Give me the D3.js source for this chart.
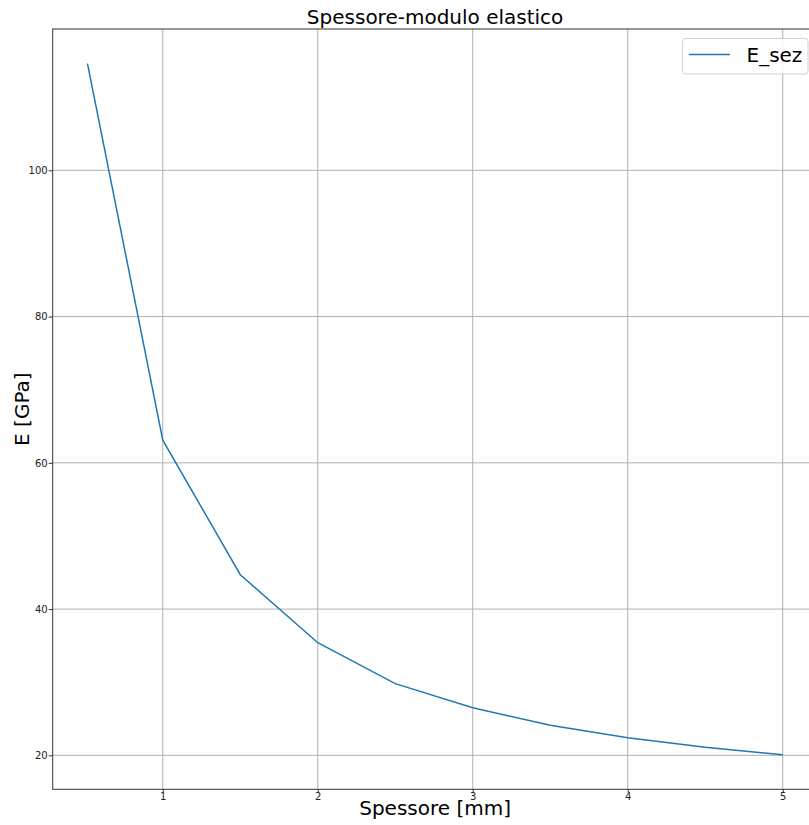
<!DOCTYPE html>
<html>
<head>
<meta charset="utf-8">
<script src="https://cdn.jsdelivr.net/npm/d3@7"></script>
<style>
  html, body { margin: 0; padding: 0; background: #fff; }
  svg { display: block; font-family: "DejaVu Sans", sans-serif; }
</style>
</head>
<body>
<svg id="chart" width="809" height="825"></svg>
<script>
const thickness = [0.514, 1, 1.5, 2, 2.5, 3, 3.5, 4, 4.5, 5];
const modulus = [114.6, 63.1, 44.7, 35.4, 29.8, 26.5, 24.1, 22.4, 21.1, 20.08];
const xTicks = [1, 2, 3, 4, 5];
const yTicks = [20, 40, 60, 80, 100];
const seriesName = "E_sez";
const titleText = "Spessore-modulo elastico";
const xLabel = "Spessore [mm]";
const yLabel = "E [GPa]";

(function () {
const svg = d3.select("#chart");
const pL = 52.7, pR = 817.5, pT = 29, pB = 789.3;

function padded(arr) {
  const [a, b] = d3.extent(arr);
  const p = (b - a) * 0.05;
  return [a - p, b + p];
}

const x = d3.scaleLinear().domain(padded(thickness)).range([pL, pR]);
const y = d3.scaleLinear().domain(padded(modulus)).range([pB, pT]);

svg.append("defs").append("clipPath").attr("id", "clip")
  .append("rect").attr("x", pL).attr("y", pT)
  .attr("width", pR - pL).attr("height", pB - pT);

// grid
const grid = svg.append("g");
grid.selectAll("line.vx").data(xTicks).join("line").attr("class", "vx")
  .attr("x1", d => x(d)).attr("x2", d => x(d))
  .attr("y1", pT).attr("y2", pB)
  .attr("stroke", "#b0b0b0").attr("stroke-width", 1);
grid.selectAll("line.hy").data(yTicks).join("line").attr("class", "hy")
  .attr("x1", pL).attr("x2", pR)
  .attr("y1", d => y(d)).attr("y2", d => y(d))
  .attr("stroke", "#b0b0b0").attr("stroke-width", 1);

// axes
const xAxis = d3.axisBottom(x).tickValues(xTicks).tickSize(3).tickPadding(1).tickFormat(d3.format("d"));
const yAxis = d3.axisLeft(y).tickValues(yTicks).tickSize(4).tickPadding(1).tickFormat(d3.format("d"));

const gx = svg.append("g").attr("transform", `translate(0,${pB})`).call(xAxis);
const gy = svg.append("g").attr("transform", `translate(${pL},0)`).call(yAxis);
[gx, gy].forEach(g => {
  g.select(".domain").remove();
  g.selectAll(".tick line").attr("stroke", "#333");
  g.selectAll(".tick text").attr("fill", "#222").style("font-size", "10px")
    .style("font-family", "DejaVu Sans, sans-serif");
});

// spines
svg.append("rect").attr("x", pL).attr("y", pT)
  .attr("width", pR - pL).attr("height", pB - pT)
  .attr("fill", "none").attr("stroke", "#333").attr("stroke-width", 1);

// line
const line = d3.line().x((d, i) => x(thickness[i])).y(d => y(d));
svg.append("path").datum(modulus)
  .attr("clip-path", "url(#clip)")
  .attr("d", line).attr("fill", "none")
  .attr("stroke", "#1f77b4").attr("stroke-width", 1.5);

// title & labels
svg.append("text").attr("x", (pL + pR) / 2).attr("y", 23.5)
  .attr("text-anchor", "middle").style("font-size", "20px").attr("fill", "#000")
  .text(titleText);
svg.append("text").attr("x", (pL + pR) / 2).attr("y", 815)
  .attr("text-anchor", "middle").style("font-size", "20px").attr("fill", "#000")
  .text(xLabel);
svg.append("text").attr("transform", `translate(28.5,${(pT + pB) / 2}) rotate(-90)`)
  .attr("text-anchor", "middle").style("font-size", "20px").attr("fill", "#000")
  .text(yLabel);

// legend
const lg = svg.append("g");
lg.append("rect").attr("x", 682.5).attr("y", 38.5).attr("width", 125.5).attr("height", 35.5)
  .attr("rx", 3).attr("fill", "#fff").attr("fill-opacity", 0.8)
  .attr("stroke", "#d0d0d0").attr("stroke-width", 1);
lg.append("line").attr("x1", 689).attr("x2", 730).attr("y1", 54.5).attr("y2", 54.5)
  .attr("stroke", "#1f77b4").attr("stroke-width", 1.5);
lg.append("text").attr("x", 746.5).attr("y", 61.5).style("font-size", "20px").attr("fill", "#000")
  .text(seriesName);
})();
</script>
</body>
</html>
